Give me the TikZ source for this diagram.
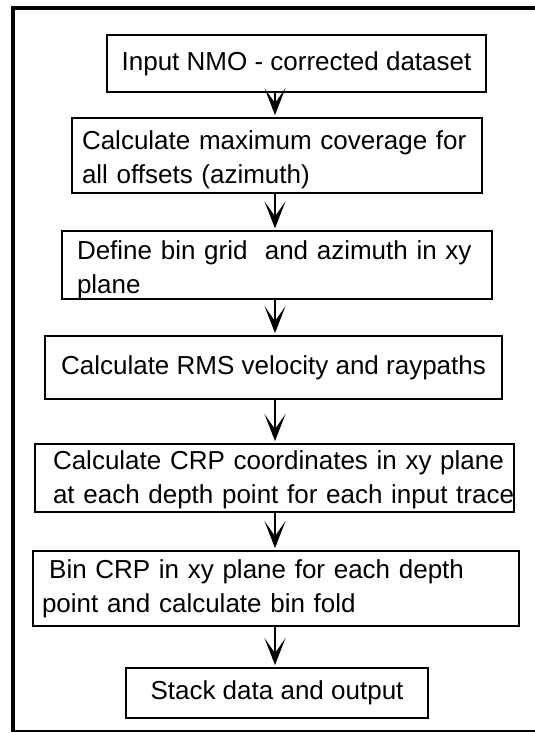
\documentclass[tikz,border=0pt]{standalone}
\usepackage{fontspec}
\setmainfont{Liberation Sans}
\usetikzlibrary{arrows.meta}
\begin{document}
\begin{tikzpicture}[x=1pt,y=-1pt,
  box/.style={draw, line width=1.8pt, inner ysep=0pt, font=\fontsize{26}{34}\selectfont},
  flow/.style={line width=1.4pt, -{Stealth[length=27pt,width=21pt,inset=15pt]}, shorten >=2pt}]
\useasboundingbox (0,0) rectangle (535,733);
% outer frame (open on the right)
\draw[line width=4pt] (13,6.2) -- (13,731.7);
\draw[line width=3.5pt] (11,8) -- (535,8);
\draw[line width=1.5pt] (13,731) -- (535,731);
% boxes
\node[box, minimum width=379pt, minimum height=57pt] (b1) at (296.5,63.5)
  {Input NMO - corrected dataset};
\node[box, minimum width=410pt, minimum height=75pt, text width=390pt, inner xsep=10pt, align=left] (b2) at (277,155.5)
  {\rule{0pt}{28pt}Calculate maximum coverage for\\all offsets (azimuth)};
\node[box, minimum width=430pt, minimum height=63pt, text width=400pt, inner xsep=15pt, align=left] (b3) at (277,265)
  {\rule{0pt}{28pt}Define bin grid\ \ and azimuth in xy\\plane};
\node[box, minimum width=457pt, minimum height=63pt] (b4) at (273.5,367.5)
  {Calculate RMS velocity and raypaths};
\node[box, minimum width=479pt, minimum height=68pt, text width=443pt, inner xsep=18pt, align=left] (b5) at (274.5,478)
  {\mbox{\rule{0pt}{23pt}Calculate CRP coordinates in xy plane}\\\mbox{at each depth point for each input trace}};
\node[box, minimum width=486pt, minimum height=75pt, text width=468pt, inner xsep=9pt, align=left] (b6) at (276,588.5)
  {\hspace*{7.2pt}Bin CRP in xy plane for each depth\\point and calculate bin fold};
\node[box, minimum width=302pt, minimum height=50pt] (b7) at (277,693)
  {Stack data and output};
% connectors
\coordinate (ax) at (275,0);
\foreach \a/\b in {b1/b2,b2/b3,b3/b4,b4/b5,b5/b6,b6/b7}
  \draw[flow] (\a.south -| ax) -- (\b.north -| ax);
\end{tikzpicture}
\end{document}
